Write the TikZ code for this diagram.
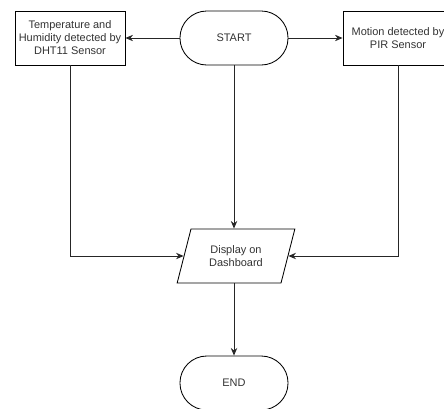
\documentclass[tikz,border=0pt]{standalone}
\usepackage{fontspec}
\setmainfont{Liberation Sans}
\usetikzlibrary{arrows.meta, shapes.geometric}

\begin{document}
\begin{tikzpicture}[x=0.025cm, y=-0.025cm,
  box/.style={draw, minimum width=2.75cm, minimum height=1.35cm, align=center,
              font=\fontsize{7.8}{9.2}\selectfont, text=black!80, inner sep=1pt, line width=0.6pt},
  term/.style={box, rounded corners=0.67cm, minimum width=2.7cm},
  io/.style={box, trapezium, trapezium left angle=70, trapezium right angle=110,
             trapezium stretches=true, minimum width=2.95cm},
  arr/.style={-{Stealth[length=1.9mm, width=1.6mm]}, line width=0.6pt, black!85}]
  \useasboundingbox (0,0) rectangle (444,408);
  % top row
  \node[term] (start) at (234,38) {START};
  \node[box] (temp) at (70,38) {Temperature and\\Humidity detected by\\DHT11 Sensor};
  \node[box] (pir) at (398,38) {Motion detected by\\PIR Sensor};
  % output and end
  \node[io] (disp) at (236,256) {Display on\\Dashboard};
  \node[term] (end) at (234,383) {END};
  \draw[arr] (start) -- (temp);
  \draw[arr] (start) -- (pir);
  \draw[arr] (start) -- (start |- disp.north);
  \draw[arr] (temp.south) |- (disp.west);
  \draw[arr] (pir.south) |- (disp.east);
  \draw[arr] (disp.south -| end.north) -- (end.north);
\end{tikzpicture}
\end{document}
